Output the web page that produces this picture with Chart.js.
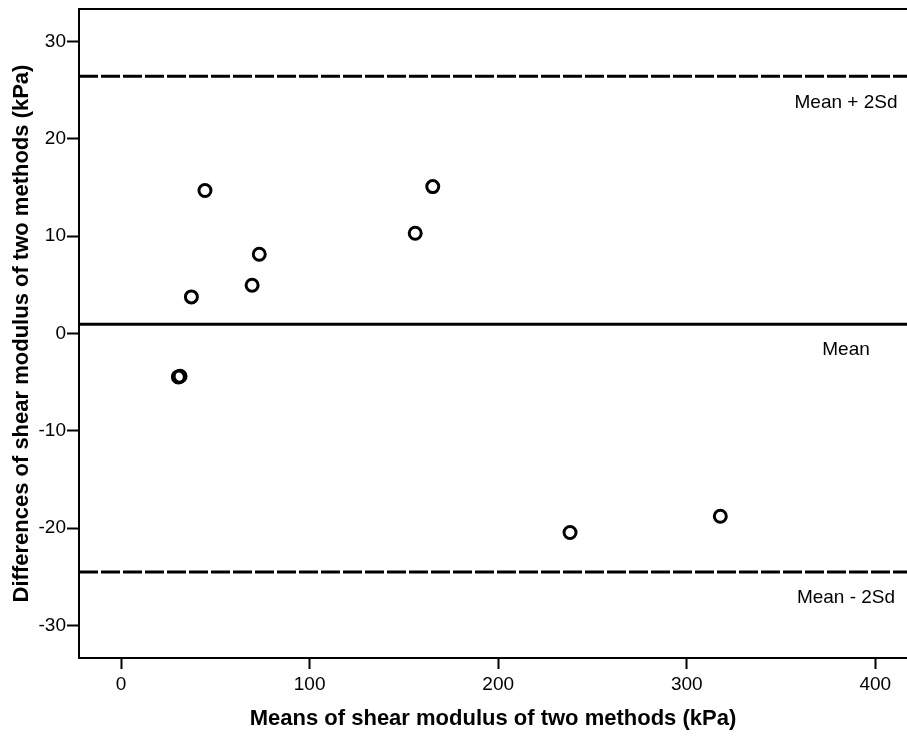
<!DOCTYPE html>
<html lang="en">
<head>
  <meta charset="UTF-8">
  <title>Bland-Altman plot</title>
  <script src="https://cdn.jsdelivr.net/npm/chart.js"></script>
  <style>
    html, body { margin: 0; padding: 0; background: #fff; }
    #wrap { width: 907px; height: 738px; }
  </style>
</head>
<body>
  <div id="wrap"><canvas id="baChart"></canvas></div>

  <script>
    // means of the two methods (x) and their differences (y), kPa
    const meanValues = [44.5, 165.3, 156.0, 73.3, 69.5, 37.3, 30.4, 31.3, 238.1, 317.8];
    const diffValues = [14.7, 15.1, 10.3, 8.15, 4.96, 3.76, -4.46, -4.39, -20.45, -18.78];

    // reference lines
    const refNames = ['Mean + 2Sd', 'Mean', 'Mean - 2Sd'];
    const refValues = [26.43, 0.96, -24.51];
    const refDashed = [true, false, true];

    const xTicks = [0, 100, 200, 300, 400];
    const yTicks = [-30, -20, -10, 0, 10, 20, 30];
    const xRange = [-22.3, 416.8];
    const yRange = [-33.35, 33.35];

    Chart.defaults.font.family = "'Liberation Sans', Arial, sans-serif";
    Chart.defaults.color = '#000';

    const points = meanValues.map((m, i) => ({ x: m, y: diffValues[i] }));

    const refSets = refValues.map((v, i) => ({
      type: 'line',
      label: refNames[i],
      data: [{ x: xRange[0], y: v }, { x: xRange[1], y: v }],
      showLine: true,
      borderColor: '#000',
      borderWidth: 3,
      borderDash: refDashed[i] ? [19, 3] : [],
      pointRadius: 0,
      fill: false
    }));

    // top frame line + text next to the reference lines
    const extras = {
      id: 'extras',
      afterDatasetsDraw(chart) {
        const { ctx, chartArea, scales } = chart;
        ctx.save();
        ctx.strokeStyle = '#000';
        ctx.lineWidth = 2;
        ctx.beginPath();
        ctx.moveTo(chartArea.left, chartArea.top);
        ctx.lineTo(chartArea.right, chartArea.top);
        ctx.stroke();

        ctx.fillStyle = '#000';
        ctx.font = "19px 'Liberation Sans', Arial, sans-serif";
        ctx.textAlign = 'center';
        ctx.textBaseline = 'middle';
        refValues.forEach((v, i) => {
          const y = scales.y.getPixelForValue(v) + 26;
          ctx.fillText(refNames[i], chartArea.right - 61, y);
        });
        ctx.restore();
      }
    };

    new Chart(document.getElementById('baChart').getContext('2d'), {
      type: 'scatter',
      data: {
        datasets: [
          {
            label: 'Differences',
            data: points,
            pointRadius: 6,
            pointHoverRadius: 6,
            borderWidth: 3,
            borderColor: '#000',
            backgroundColor: 'rgba(255,255,255,0)'
          },
          ...refSets
        ]
      },
      options: {
        responsive: true,
        maintainAspectRatio: false,
        animation: false,
        layout: { autoPadding: false, padding: { top: 9, right: 0, left: 0, bottom: 0 } },
        plugins: {
          legend: { display: false },
          tooltip: { enabled: false }
        },
        scales: {
          x: {
            type: 'linear',
            min: xRange[0],
            max: xRange[1],
            afterBuildTicks: s => { s.ticks = xTicks.map(v => ({ value: v })); },
            afterFit: s => { s.height = 80; s.paddingLeft = 0; s.paddingRight = 0; },
            grid: { drawOnChartArea: false, tickLength: 11, tickWidth: 2, tickColor: '#000' },
            border: { color: '#000', width: 2 },
            ticks: { font: { size: 19 }, padding: 4 },
            title: {
              display: true,
              text: 'Means of shear modulus of two methods (kPa)',
              font: { size: 22, weight: 'bold' },
              padding: { top: 0, bottom: 6 }
            }
          },
          y: {
            type: 'linear',
            min: yRange[0],
            max: yRange[1],
            afterBuildTicks: s => { s.ticks = yTicks.map(v => ({ value: v })); },
            afterFit: s => { s.width = 79; s.paddingTop = 0; s.paddingBottom = 0; },
            grid: { drawOnChartArea: false, tickLength: 12, tickWidth: 2, tickColor: '#000' },
            border: { color: '#000', width: 2 },
            ticks: { font: { size: 19 }, padding: 1 },
            title: {
              display: true,
              text: 'Differences of shear modulus of two methods (kPa)',
              font: { size: 22, weight: 'bold' },
              padding: { top: 9, bottom: 0 }
            }
          }
        }
      },
      plugins: [extras]
    });
  </script>
</body>
</html>
